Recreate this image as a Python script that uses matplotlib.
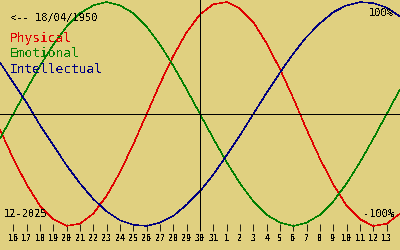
import matplotlib
matplotlib.use('Agg')
import matplotlib.pyplot as plt

# day labels along the bottom (index 0 and 30 sit on the edges, unlabeled)
day_labels = ['16', '17', '18', '19', '20', '21', '22', '23', '24', '25', '26',
              '27', '28', '29', '30', '31', '1', '2', '3', '4', '5', '6', '7',
              '8', '9', '10', '11', '12', '13']

# cycle values read per day, index 0..30
physical = [-0.14, -0.40, -0.63, -0.82, -0.94, -1.00, -0.98, -0.89, -0.73, -0.52,
            -0.27, 0.00, 0.27, 0.52, 0.73, 0.89, 0.98, 1.00, 0.94, 0.82, 0.63,
            0.40, 0.14, -0.14, -0.40, -0.63, -0.82, -0.94, -1.00, -0.98, -0.89]
emotional = [-0.22, 0.00, 0.22, 0.43, 0.62, 0.78, 0.90, 0.97, 1.00, 0.97, 0.90,
             0.78, 0.62, 0.43, 0.22, 0.00, -0.22, -0.43, -0.62, -0.78, -0.90,
             -0.97, -1.00, -0.97, -0.90, -0.78, -0.62, -0.43, -0.22, 0.00, 0.22]
intellectual = [0.46, 0.28, 0.10, -0.10, -0.28, -0.46, -0.62, -0.76, -0.87, -0.95,
                -0.99, -1.00, -0.97, -0.91, -0.81, -0.69, -0.54, -0.37, -0.19, 0.00,
                0.19, 0.37, 0.54, 0.69, 0.81, 0.91, 0.97, 1.00, 0.99, 0.95, 0.87]

birth = '<-- 18/04/1950'
month = '12-2025'

bg = '#e0d080'
red = '#e00000'
green = '#008000'
blue = '#000080'
mono = 'DejaVu Sans Mono'
lw = 0.6
curve_lw = 0.35

plt.rcParams['text.antialiased'] = False

fig = plt.figure(figsize=(4, 2.5), dpi=100, facecolor=bg)
ax = fig.add_axes([0, 0.076, 1, 0.924], facecolor=bg)

days = list(range(len(physical)))
ax.plot(days, physical, color=red, lw=curve_lw, antialiased=False)
ax.plot(days, emotional, color=green, lw=curve_lw, antialiased=False)
ax.plot(days, intellectual, color=blue, lw=curve_lw, antialiased=False)

ax.axhline(0, color='black', lw=lw, antialiased=False)
ax.axvline(15, color='black', lw=lw, antialiased=False)

ax.set_xlim(0, 30)
ax.set_ylim(-1.045, 1.018)
for s in ax.spines.values():
    s.set_visible(False)
ax.set_yticks([])
ax.set_xticks(range(1, 30))
ax.set_xticklabels(day_labels, fontfamily=mono, fontweight='bold', fontsize=6)
ax.tick_params(axis='x', direction='in', length=5, width=lw, pad=2.5,
               colors='black')

# legend / annotations
fig.text(10 / 400, 1 - 21 / 250, birth, fontfamily=mono, fontsize=7.5, color='black')
fig.text(10 / 400, 1 - 42.3 / 250, 'Physical', fontfamily=mono, fontsize=9.3, color=red)
fig.text(10 / 400, 1 - 57.3 / 250, 'Emotional', fontfamily=mono, fontsize=9.3, color=green)
fig.text(10 / 400, 1 - 73.3 / 250, 'Intellectual', fontfamily=mono, fontsize=9.3, color=blue)
fig.text(4 / 400, 1 - 217 / 250, month, fontfamily=mono, fontsize=7.5, color='black')
fig.text(394 / 400, 1 - 16 / 250, '100%', fontfamily=mono, fontsize=7.5, ha='right')
fig.text(394 / 400, 1 - 217 / 250, '-100%', fontfamily=mono, fontsize=7.5, ha='right')

fig.savefig('out.png', dpi=100, facecolor=bg)
